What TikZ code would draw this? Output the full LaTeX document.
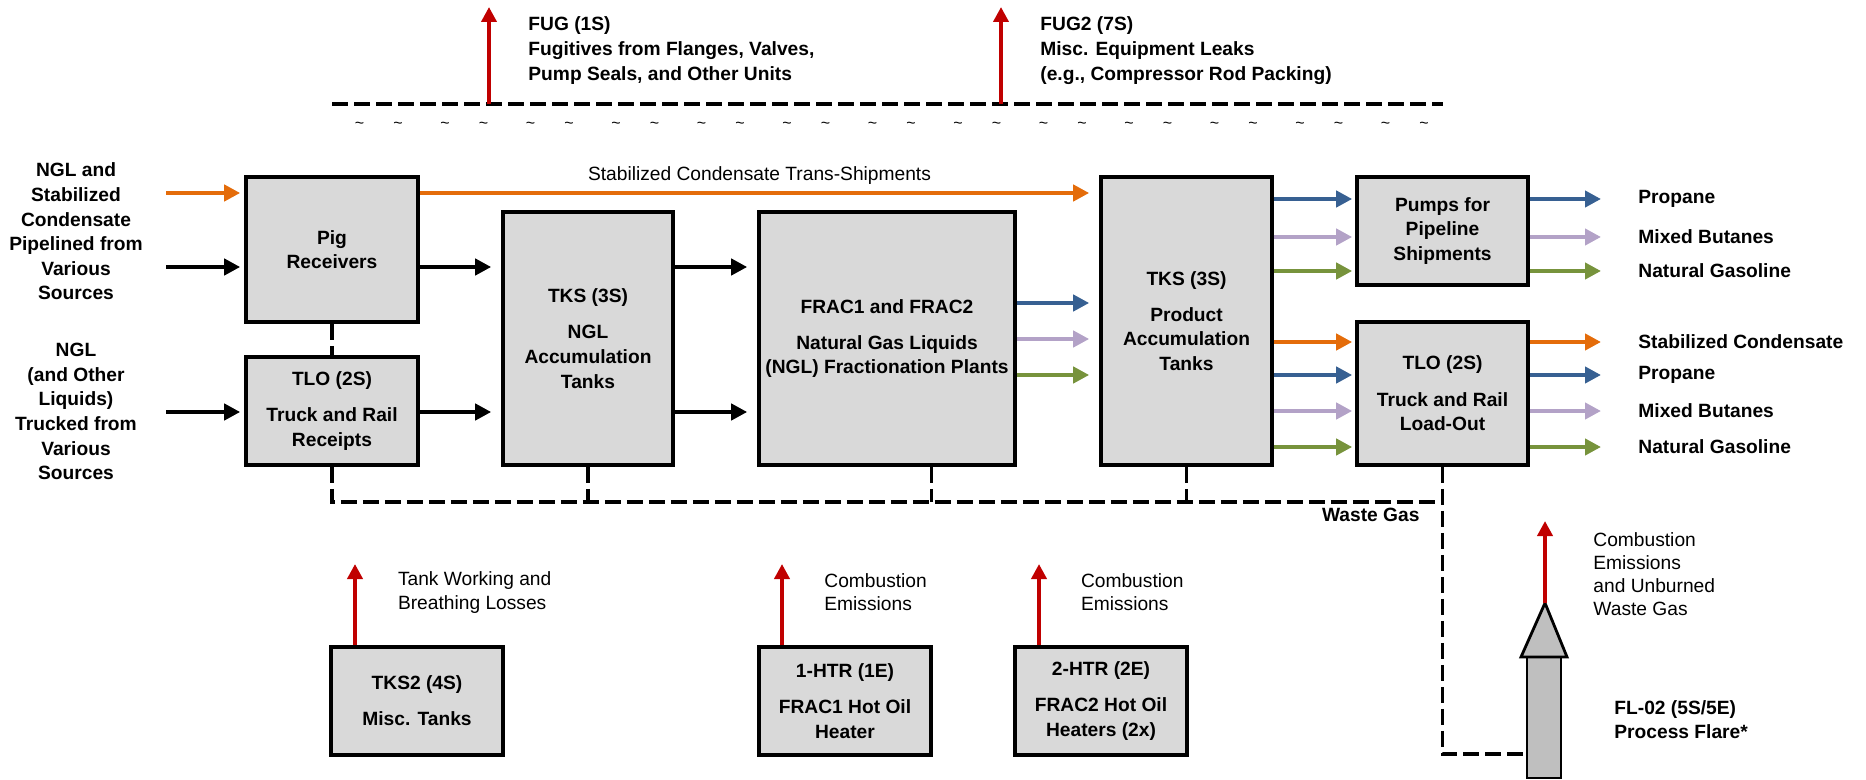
\documentclass[tikz,border=0pt]{standalone}
\usepackage{fontspec}
\setmainfont{Liberation Sans}
\usetikzlibrary{arrows.meta,calc}

\definecolor{boxfill}{HTML}{D9D9D9}
\definecolor{flarefill}{HTML}{BFBFBF}
\definecolor{streamorange}{HTML}{E46C0A}
\definecolor{streamblue}{HTML}{376092}
\definecolor{streamlilac}{HTML}{B3A2C7}
\definecolor{streamgreen}{HTML}{77933C}
\definecolor{emitred}{HTML}{C00000}

\begin{document}
\begin{tikzpicture}[x=0.5pt,y=-0.5pt,
  unit/.style={draw=black, line width=1.8pt, fill=boxfill, inner sep=0pt,
    align=center, font=\fontsize{9.6pt}{12.3pt}\selectfont\bfseries},
  lbl/.style={inner sep=0pt, align=center, font=\fontsize{9.6pt}{12.3pt}\selectfont\bfseries},
  lbll/.style={inner sep=0pt, align=left, font=\fontsize{9.6pt}{12.3pt}\selectfont\bfseries},
  note/.style={inner sep=0pt, align=left, text=black, font=\fontsize{9.6pt}{11.6pt}\selectfont},
  flow/.style={line width=2.4pt, -{Triangle[length=8pt,width=8pt]}},
  emit/.style={draw=emitred, line width=2.4pt, -{Triangle[length=7.5pt,width=7.5pt]}},
  gasline/.style={line width=1.6pt, dash pattern=on 8pt off 3pt},
  tilde/.style={inner sep=0pt, font=\fontsize{8pt}{8pt}\selectfont},
]
\useasboundingbox (0,0) rectangle (1866,780);

% ---------- process units ----------
\node[unit, minimum width=86pt, minimum height=72.5pt] (pig) at (332,249.5) {Pig\\Receivers};
\node[unit, minimum width=86pt, minimum height=54pt] (tlor) at (332,411) {TLO (2S)\\[5.8pt]Truck and Rail\\Receipts};
\node[unit, minimum width=85pt, minimum height=126.5pt] (tksngl) at (588,338.5) {TKS (3S)\\[5.8pt]NGL\\Accumulation\\Tanks};
\node[unit, minimum width=128pt, minimum height=126.5pt] (frac) at (887,338.5) {FRAC1 and FRAC2\\[5.8pt]Natural Gas Liquids\\(NGL) Fractionation Plants};
\node[unit, minimum width=85.5pt, minimum height=144pt] (tksprod) at (1186.5,321) {TKS (3S)\\[5.8pt]Product\\Accumulation\\Tanks};
\node[unit, minimum width=85.5pt, minimum height=54pt] (pumps) at (1442.5,231) {Pumps for\\Pipeline\\Shipments};
\node[unit, minimum width=85.5pt, minimum height=71.5pt] (tlolo) at (1442.5,393.5) {TLO (2S)\\[5.8pt]Truck and Rail\\Load-Out};

\node[unit, minimum width=86pt, minimum height=54pt] (tksmisc) at (417,701) {TKS2 (4S)\\[5.8pt]Misc. Tanks};
\node[unit, minimum width=86pt, minimum height=54pt] (htra) at (845,701) {1-HTR (1E)\\[5.8pt]FRAC1 Hot Oil\\Heater};
\node[unit, minimum width=86pt, minimum height=54pt] (htrb) at (1101,701) {2-HTR (2E)\\[5.8pt]FRAC2 Hot Oil\\Heaters (2x)};

% ---------- process flare ----------
\node[draw=black, line width=1.3pt, fill=flarefill, inner sep=0pt,
      minimum width=17pt, minimum height=60.5pt] (stack) at (1544,717.5) {};
\coordinate (flaretip) at (1545,603);
\draw[line width=1.4pt, fill=flarefill] (1521,657) -- (flaretip) -- (1567,657) -- cycle;

% ---------- inlet labels ----------
\node[lbl] (srcpipe) at (76,231.5) {NGL and\\Stabilized\\Condensate\\Pipelined from\\Various\\Sources};
\node[lbl] (srctruck) at (76,411.5) {NGL\\(and Other\\Liquids)\\Trucked from\\Various\\Sources};

% ---------- product labels ----------
\node[lbll, anchor=west] (p1) at (1638,199) {Propane};
\node[lbll, anchor=west] (p2) at (1638,237) {Mixed Butanes};
\node[lbll, anchor=west] (p3) at (1638,271) {Natural Gasoline};
\node[lbll, anchor=west] (t1) at (1638,342) {Stabilized Condensate};
\node[lbll, anchor=west] (t2) at (1638,375) {Propane};
\node[lbll, anchor=west] (t3) at (1638,411) {Mixed Butanes};
\node[lbll, anchor=west] (t4) at (1638,447) {Natural Gasoline};

% ---------- inlet streams ----------
\coordinate (inA) at (166,193);
\coordinate (inB) at (166,267);
\coordinate (inC) at (166,412);
\draw[flow, streamorange, shorten >=2pt] (inA) -- (pig.west |- inA);
\draw[flow, shorten >=2pt] (inB) -- (pig.west |- inB);
\draw[flow, shorten >=2pt] (inC) -- (tlor.west |- inC);

% ---------- black liquid streams ----------
\draw[flow, shorten >=5pt] (pig.east |- inB) -- (tksngl.west |- inB);
\draw[flow, shorten >=5pt] (tlor.east |- inC) -- (tksngl.west |- inC);
\draw[flow, shorten >=5pt] (tksngl.east |- inB) -- (frac.west |- inB);
\draw[flow, shorten >=5pt] (tksngl.east |- inC) -- (frac.west |- inC);

% ---------- condensate trans-shipment ----------
\draw[flow, streamorange, shorten >=5pt] (pig.east |- inA) -- (tksprod.west |- inA)
  node[midway, above=3pt, note] (transtxt) {Stabilized Condensate Trans-Shipments};

% ---------- fractionation products ----------
\coordinate (fb) at (0,303);
\coordinate (fl) at (0,339);
\coordinate (fg) at (0,375);
\draw[flow, streamblue, shorten >=5pt] (frac.east |- fb) -- (tksprod.west |- fb);
\draw[flow, streamlilac, shorten >=5pt] (frac.east |- fl) -- (tksprod.west |- fl);
\draw[flow, streamgreen, shorten >=5pt] (frac.east |- fg) -- (tksprod.west |- fg);

% ---------- product tanks to pumps and load-out ----------
\draw[flow, streamblue, shorten >=1.5pt] (tksprod.east |- p1) -- (pumps.west |- p1);
\draw[flow, streamlilac, shorten >=1.5pt] (tksprod.east |- p2) -- (pumps.west |- p2);
\draw[flow, streamgreen, shorten >=1.5pt] (tksprod.east |- p3) -- (pumps.west |- p3);
\draw[flow, streamorange, shorten >=1.5pt] (tksprod.east |- t1) -- (tlolo.west |- t1);
\draw[flow, streamblue, shorten >=1.5pt] (tksprod.east |- t2) -- (tlolo.west |- t2);
\draw[flow, streamlilac, shorten >=1.5pt] (tksprod.east |- t3) -- (tlolo.west |- t3);
\draw[flow, streamgreen, shorten >=1.5pt] (tksprod.east |- t4) -- (tlolo.west |- t4);

% ---------- shipped products ----------
\draw[flow, streamblue, shorten >=18.5pt] (pumps.east |- p1) -- (p1.west);
\draw[flow, streamlilac, shorten >=18.5pt] (pumps.east |- p2) -- (p2.west);
\draw[flow, streamgreen, shorten >=18.5pt] (pumps.east |- p3) -- (p3.west);
\draw[flow, streamorange, shorten >=18.5pt] (tlolo.east |- t1) -- (t1.west);
\draw[flow, streamblue, shorten >=18.5pt] (tlolo.east |- t2) -- (t2.west);
\draw[flow, streamlilac, shorten >=18.5pt] (tlolo.east |- t3) -- (t3.west);
\draw[flow, streamgreen, shorten >=18.5pt] (tlolo.east |- t4) -- (t4.west);

% ---------- fugitive emission boundary ----------
\coordinate (fugL) at (332,104);
\coordinate (fugR) at (1443,104);
\draw[gasline] (fugL) -- (fugR);
\foreach \k in {0,...,12}{
  \node[tilde] at (359.5+85.5*\k,125) {\textasciitilde};
  \node[tilde] at (398+85.5*\k,125) {\textasciitilde};
}
\coordinate (fugA) at (489,104);
\coordinate (fugB) at (1001,104);
\draw[emit] (fugA) -- ++(0,-97);
\draw[emit] (fugB) -- ++(0,-97);
\node[lbll, anchor=west] (fugtxt) at (528,50.5) {FUG (1S)\\Fugitives from Flanges, Valves,\\Pump Seals, and Other Units};
\node[lbll, anchor=west] (fug2txt) at (1040,50.5) {FUG2 (7S)\\Misc. Equipment Leaks\\(e.g., Compressor Rod Packing)};

% ---------- waste gas header ----------
\coordinate (wgend) at (1443,502);
\coordinate (fracdrop) at ($(frac.south west)!0.672!(frac.south east)$);
\coordinate (flarein) at (stack.west |- 0,754);
\draw[gasline] (pig.south) -- (tlor.north);
\draw[gasline] (tlor.south) -- (tlor.south |- wgend) -- (wgend);
\draw[gasline] (tksngl.south) -- (tksngl.south |- wgend);
\draw[gasline] (fracdrop) -- (fracdrop |- wgend);
\draw[gasline] (tksprod.south) -- (tksprod.south |- wgend);
\draw[gasline] (tlolo.south) -- (tlolo.south |- flarein) -- (flarein);
\node[lbll, anchor=west] (wgtxt) at (1321.6,515) {Waste Gas};

% ---------- combustion and tank emissions ----------
\coordinate (emA) at (355,564);
\coordinate (emB) at (782,564);
\coordinate (emC) at (1039,564);
\coordinate (emF) at (1545,521);
\draw[emit] (tksmisc.north -| emA) -- (emA);
\draw[emit] (htra.north -| emB) -- (emB);
\draw[emit] (htrb.north -| emC) -- (emC);
\draw[emit] (flaretip) -- (emF);
\node[note, anchor=west] (emAtxt) at (397.6,592.5) {Tank Working and\\Breathing Losses};
\node[note, anchor=west] (emBtxt) at (824,592.3) {Combustion\\Emissions};
\node[note, anchor=west] (emCtxt) at (1080.6,592.3) {Combustion\\Emissions};
\node[note, anchor=west] (emFtxt) at (1593,574) {Combustion\\Emissions\\and Unburned\\Waste Gas};
\node[lbll, anchor=west] (flaretxt) at (1614,719.5) {FL-02 (5S/5E)\\Process Flare*};

\end{tikzpicture}
\end{document}
